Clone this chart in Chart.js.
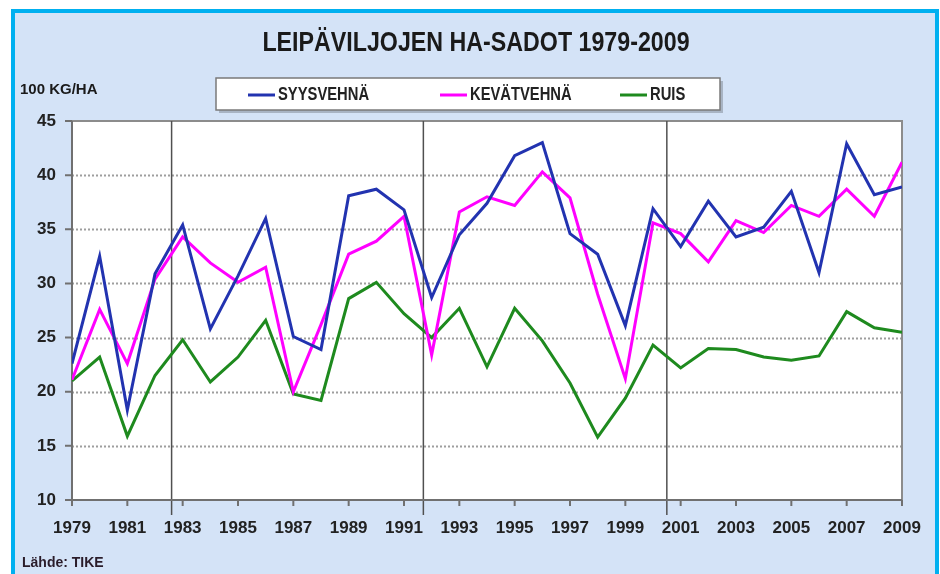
<!DOCTYPE html>
<html>
<head>
<meta charset="utf-8">
<script src="https://cdn.jsdelivr.net/npm/chart.js@4.4.1/dist/chart.umd.min.js"></script>
<style>
  html, body { margin: 0; padding: 0; background: #fff; }
  #wrap { width: 940px; height: 574px; }
</style>
</head>
<body>
<div id="wrap"><canvas id="yields" width="940" height="574"></canvas></div>
<script>
// ---- data (100 kg/ha) ----
const years = [1979, 1980, 1981, 1982, 1983, 1984, 1985, 1986, 1987, 1988,
  1989, 1990, 1991, 1992, 1993, 1994, 1995, 1996, 1997, 1998,
  1999, 2000, 2001, 2002, 2003, 2004, 2005, 2006, 2007, 2008, 2009];
const syysvehna = [22.6, 32.5, 18.3, 30.9, 35.4, 25.8, 30.7, 36.0, 25.1, 23.9,
  38.1, 38.7, 36.8, 28.7, 34.5, 37.4, 41.8, 43.0, 34.6, 32.7,
  26.1, 36.9, 33.4, 37.6, 34.3, 35.2, 38.5, 31.0, 42.9, 38.2, 38.9];
const kevatvehna = [21.1, 27.6, 22.6, 30.4, 34.3, 31.9, 30.1, 31.5, 20.0, 26.2,
  32.7, 33.9, 36.2, 23.4, 36.6, 38.0, 37.2, 40.3, 37.9, 29.0,
  21.2, 35.6, 34.6, 32.0, 35.8, 34.7, 37.2, 36.2, 38.7, 36.2, 41.2];
const ruis = [21.0, 23.2, 15.9, 21.5, 24.8, 20.9, 23.2, 26.6, 19.8, 19.2,
  28.6, 30.1, 27.2, 25.0, 27.7, 22.3, 27.7, 24.7, 20.8, 15.8,
  19.4, 24.3, 22.2, 24.0, 23.9, 23.2, 22.9, 23.3, 27.4, 25.9, 25.5];
const seriesNames = ['SYYSVEHNÄ', 'KEVÄTVEHNÄ', 'RUIS'];
const xTickYears = years.filter((y, i) => i % 2 === 0);
const yTicks = [10, 15, 20, 25, 30, 35, 40, 45];
const dividerYears = [1982.6, 1991.7, 2000.5];

const titleText = 'LEIPÄVILJOJEN HA-SADOT 1979-2009';
const unitText = '100 KG/HA';
const sourceText = 'Lähde: TIKE';

const FONT = '"Liberation Sans", Arial, sans-serif';
const colors = ['#2233b0', '#ff00ff', '#1e8a1e'];

const toPoints = arr => arr.map((v, i) => ({ x: years[i], y: v }));

// text squeezed horizontally to look like a narrow face
function narrowText(ctx, text, x, y, font, sx, align) {
  ctx.save();
  ctx.font = font;
  ctx.textAlign = align;
  ctx.textBaseline = 'middle';
  ctx.translate(x, y);
  ctx.scale(sx, 1);
  ctx.fillText(text, 0, 0);
  ctx.restore();
}

// background panel, plot area, grid, dividers, axes
const framePlugin = {
  id: 'frame',
  beforeDraw(chart) {
    const { ctx, chartArea: a } = chart;
    ctx.save();
    ctx.fillStyle = '#ffffff';
    ctx.fillRect(0, 0, chart.width, chart.height);
    ctx.fillStyle = '#d4e3f7';
    ctx.fillRect(13, 11, 924, 570);
    ctx.strokeStyle = '#00b0f0';
    ctx.lineWidth = 4;
    ctx.strokeRect(13, 11, 924, 580);
    ctx.fillStyle = '#ffffff';
    ctx.fillRect(a.left, a.top, a.right - a.left, a.bottom - a.top);
    ctx.restore();
  },
  beforeDatasetsDraw(chart) {
    const { ctx, chartArea: a, scales: { x, y } } = chart;
    ctx.save();
    // dotted horizontal grid
    ctx.strokeStyle = '#9e9e9e';
    ctx.lineWidth = 2;
    ctx.setLineDash([2, 2]);
    yTicks.forEach(v => {
      if (v === y.min || v === y.max) return;
      const py = Math.round(y.getPixelForValue(v)) + 0.5;
      ctx.beginPath();
      ctx.moveTo(a.left, py);
      ctx.lineTo(a.right, py);
      ctx.stroke();
    });
    ctx.setLineDash([]);
    // frame top / right
    ctx.strokeStyle = '#8c8c8c';
    ctx.lineWidth = 2;
    ctx.beginPath();
    ctx.moveTo(a.left, a.top);
    ctx.lineTo(a.right, a.top);
    ctx.lineTo(a.right, a.bottom);
    ctx.stroke();
    // period dividers
    ctx.strokeStyle = '#505050';
    ctx.lineWidth = 1.5;
    dividerYears.forEach(v => {
      const px = x.getPixelForValue(v);
      ctx.beginPath();
      ctx.moveTo(px, a.top);
      ctx.lineTo(px, a.bottom + 15);
      ctx.stroke();
    });
    // axes
    ctx.strokeStyle = '#707070';
    ctx.lineWidth = 2;
    ctx.beginPath();
    ctx.moveTo(a.left, a.top);
    ctx.lineTo(a.left, a.bottom);
    ctx.lineTo(a.right, a.bottom);
    ctx.stroke();
    ctx.beginPath();
    yTicks.forEach(v => {
      const py = y.getPixelForValue(v);
      ctx.moveTo(a.left - 7, py);
      ctx.lineTo(a.left, py);
    });
    xTickYears.forEach(v => {
      const px = x.getPixelForValue(v);
      ctx.moveTo(px, a.bottom);
      ctx.lineTo(px, a.bottom + 6);
    });
    ctx.stroke();
    ctx.restore();
  },
  afterDraw(chart) {
    const { ctx } = chart;
    ctx.save();
    // title
    ctx.fillStyle = '#1a1a1a';
    narrowText(ctx, titleText, 476, 44, 'bold 27px ' + FONT, 0.86, 'center');
    // unit
    ctx.fillStyle = '#1a1a1a';
    ctx.textAlign = 'left';
    ctx.textBaseline = 'middle';
    ctx.font = 'bold 15px ' + FONT;
    ctx.fillText(unitText, 20, 90);
    // source
    ctx.fillStyle = '#2a1c2a';
    ctx.font = 'bold 14px ' + FONT;
    ctx.fillText(sourceText, 22, 563);
    // legend box
    ctx.fillStyle = '#a8b4c4';
    ctx.fillRect(219, 81, 504, 32);
    ctx.fillStyle = '#ffffff';
    ctx.fillRect(216, 78, 504, 32);
    ctx.strokeStyle = '#7a7a7a';
    ctx.lineWidth = 1.5;
    ctx.strokeRect(216, 78, 504, 32);
    const itemX = [248, 440, 620];
    chart.data.datasets.forEach((ds, i) => {
      ctx.strokeStyle = ds.borderColor;
      ctx.lineWidth = 3;
      ctx.beginPath();
      ctx.moveTo(itemX[i], 95);
      ctx.lineTo(itemX[i] + 27, 95);
      ctx.stroke();
      ctx.fillStyle = '#222';
      narrowText(ctx, ds.label, itemX[i] + 30, 95, 'bold 18px ' + FONT, 0.82, 'left');
    });
    ctx.restore();
  }
};

new Chart(document.getElementById('yields').getContext('2d'), {
  type: 'line',
  data: {
    datasets: [
      { label: seriesNames[0], data: toPoints(syysvehna), borderColor: colors[0] },
      { label: seriesNames[1], data: toPoints(kevatvehna), borderColor: colors[1] },
      { label: seriesNames[2], data: toPoints(ruis), borderColor: colors[2] }
    ]
  },
  options: {
    responsive: false,
    animation: false,
    layout: { padding: { left: 0, right: 38, top: 121, bottom: 0 } },
    elements: {
      point: { radius: 0 },
      line: { tension: 0, borderWidth: 3, fill: false }
    },
    plugins: {
      legend: { display: false },
      title: { display: false },
      tooltip: { enabled: false }
    },
    scales: {
      x: {
        type: 'linear',
        min: years[0],
        max: years[years.length - 1],
        grid: { display: false, drawTicks: false },
        border: { display: false },
        afterBuildTicks: s => { s.ticks = xTickYears.map(v => ({ value: v })); },
        ticks: {
          autoSkip: false,
          maxRotation: 0,
          padding: 18,
          color: '#222',
          font: { family: FONT, size: 17, weight: 'bold' },
          callback: v => String(v)
        },
        afterFit: s => { s.height = 74; }
      },
      y: {
        min: 10,
        max: 45,
        grid: { display: false, drawTicks: false },
        border: { display: false },
        afterBuildTicks: s => { s.ticks = yTicks.map(v => ({ value: v })); },
        ticks: {
          padding: 16,
          color: '#222',
          font: { family: FONT, size: 17, weight: 'bold' }
        },
        afterFit: s => { s.width = 72; }
      }
    }
  },
  plugins: [framePlugin]
});
</script>
</body>
</html>
